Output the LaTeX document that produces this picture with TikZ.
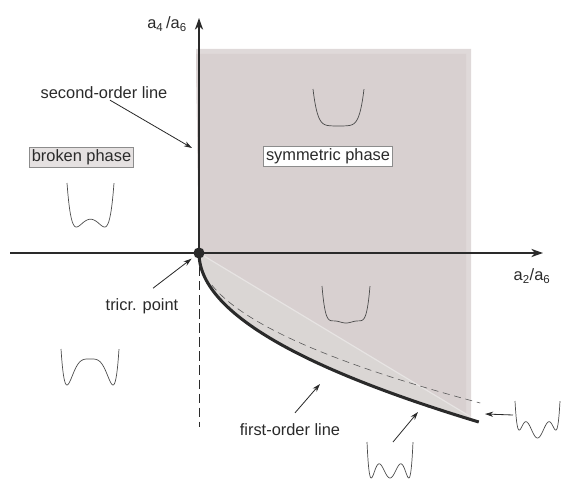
\documentclass[tikz,border=0pt]{standalone}
\usepackage{fontspec}
\setmainfont{Liberation Sans}
\usetikzlibrary{arrows.meta}

\definecolor{symcol}{HTML}{D8D0D0}
\definecolor{symrim}{HTML}{DFD9D9}
\definecolor{metacol}{HTML}{DAD6D4}
\definecolor{inkcol}{HTML}{2A2A2A}

% one potential sketch: centre x, bottom y, half width, height, range, a4, a2, minimum
\newcommand{\wellcurve}[8]{%
  \draw[well] plot[domain=-#5:#5]
    ({#1+#3*\x/#5},{#2+#4*((\x*\x)^3+(#6)*(\x*\x)^2+(#7)*\x*\x-(#8))/((#5*#5)^3+(#6)*(#5*#5)^2+(#7)*#5*#5-(#8))});}

\begin{document}
\begin{tikzpicture}[x=0.03cm, y=0.03cm,
    every node/.style={font=\fontsize{14}{16}\selectfont, text=inkcol},
    axis/.style={line width=1.6pt, draw=inkcol, -{Stealth[length=10pt,width=7pt]}},
    arr/.style={line width=0.7pt, draw=inkcol, -{Stealth[length=7pt,width=4.5pt]}},
    well/.style={line width=0.6pt, draw=black!70, samples=81, smooth},
    tag/.style={draw=black!45, line width=0.5pt, inner sep=2pt}]
  \useasboundingbox (0,0) rectangle (581,490);

  % Shaded phases
  \fill[symrim] (196,441) -- (471,441) -- (471,73) -- (199,237) -- cycle;
  \fill[symcol] (196,436) -- (466,436) -- (466,76) -- (199,237) -- cycle;
  \fill[metacol] plot[domain=0:166.6] ({199+0.0098*\x*\x},{237-\x}) -- (471,73) -- cycle;
  \draw[white!35!metacol, line width=1pt] (199,237) -- (471,73);

  % Lines
  \draw[inkcol, line width=0.8pt, dash pattern=on 8pt off 4pt] (199,237) -- (199,63);
  \draw[black!65, line width=0.5pt, dash pattern=on 6pt off 4pt]
    plot[domain=32:150, samples=60, smooth] ({199+0.0125*\x*\x},{237-\x});
  \draw[inkcol, line width=2.6pt]
    plot[domain=0:169, samples=80, smooth] ({199+0.0098*\x*\x},{237-\x});

  % Axes
  \draw[axis] (10,237) -- (543,237);
  \draw[axis] (199,237) -- (199,472);
  \node[circle, fill=inkcol, minimum size=9.5pt, inner sep=0pt] (tcp) at (199,237) {};
  \node (ylabel) at (167,466) {a\textsubscript{4}\,/a\textsubscript{6}};
  \node (xlabel) at (532,214) {a\textsubscript{2}/a\textsubscript{6}};

  % Labels
  \node (solabel) at (104,397) {second-order line};
  \node[tag, fill=symrim!80!white] (brokenlabel) at (81.5,333) {broken phase};
  \node[tag, fill=white] (symlabel) at (328,334) {symmetric phase};
  \node (trlabel) at (142,184) {tricr. point};
  \node (folabel) at (290,60) {first-order line};

  % Potentials
  \wellcurve{338.5}{364}{25.5}{37}{1}{0}{0.05}{0}
  \wellcurve{90.5}{263}{23.5}{44}{1.67}{1.65}{-6.3}{-3.65}
  \wellcurve{90}{105}{29}{36}{1.26}{-1.47}{-0.06}{-0.53}
  \wellcurve{346}{167}{24}{37}{1.9}{-3}{3.1}{0}
  \wellcurve{537.5}{52}{22.5}{37}{1.23}{-2.1}{1.2}{0}
  \wellcurve{390}{12}{23}{36}{1.225}{-2}{1}{0}

  % Arrows
  \coordinate (sotip) at (192,342);
  \coordinate (fotip) at (320,106);
  \coordinate (botwell) at (393,48);
  \coordinate (bottip) at (418,78);
  \coordinate (rightwell) at (513,75);
  \coordinate (righttip) at (485,76);
  \draw[arr] ([shift={(6,3)}]solabel.south) -- (sotip);
  \draw[arr, shorten >=3pt] ([shift={(11,6)}]trlabel.north) -- (tcp);
  \draw[arr] ([shift={(5,7)}]folabel.north) -- (fotip);
  \draw[arr] (botwell) -- (bottip);
  \draw[arr] (rightwell) -- (righttip);
\end{tikzpicture}
\end{document}
